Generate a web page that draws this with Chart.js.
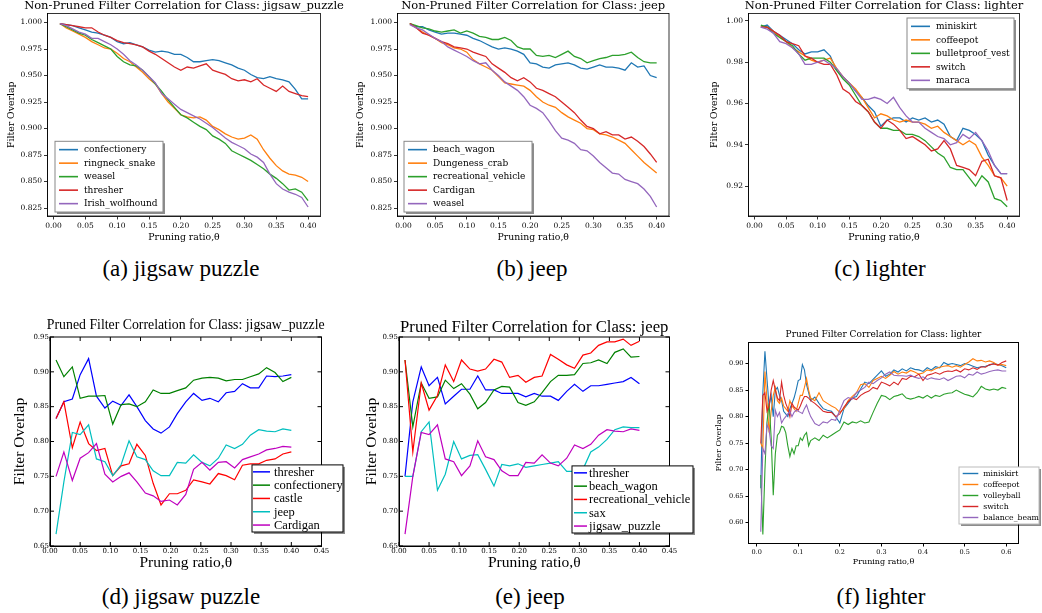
<!DOCTYPE html>
<html>
<head>
<meta charset="utf-8">
<script src="https://cdn.jsdelivr.net/npm/chart.js@4.4.0/dist/chart.umd.min.js"></script>
<style>
body { margin: 0; background: #fff; width: 1042px; height: 613px; position: relative; overflow: hidden; }
canvas { position: absolute; }
.cap { position: absolute; width: 300px; text-align: center; font-family: "Liberation Serif", serif; font-size: 23px; line-height: 23px; color: #000; }
</style>
</head>
<body>
<canvas id="pa"></canvas>
<canvas id="pb"></canvas>
<canvas id="pc"></canvas>
<canvas id="pd"></canvas>
<canvas id="pe"></canvas>
<canvas id="pf"></canvas>
<div class="cap" style="left:31px;top:257px">(a) jigsaw puzzle</div>
<div class="cap" style="left:382px;top:257px">(b) jeep</div>
<div class="cap" style="left:730px;top:257px">(c) lighter</div>
<div class="cap" style="left:31px;top:585px">(d) jigsaw puzzle</div>
<div class="cap" style="left:380px;top:585px">(e) jeep</div>
<div class="cap" style="left:731px;top:585px">(f) lighter</div>
<script>
// pruning ratios
const thetaTop = [0.01,0.02,0.03,0.04,0.05,0.06,0.07,0.08,0.09,0.10,0.11,0.12,0.13,0.14,0.15,0.16,0.17,0.18,0.19,0.20,
                  0.21,0.22,0.23,0.24,0.25,0.26,0.27,0.28,0.29,0.30,0.31,0.32,0.33,0.34,0.35,0.36,0.37,0.38,0.39,0.40];
const thetaPruned = [0.010,0.023,0.037,0.050,0.064,0.077,0.091,0.104,0.118,0.131,0.144,0.158,0.171,0.184,0.198,
                     0.211,0.225,0.238,0.252,0.265,0.279,0.292,0.306,0.319,0.332,0.346,0.359,0.373,0.386,0.400];
const thetaF = [0.010,0.015,0.020,0.025,0.030,0.035,0.040,0.045,0.050,0.055,0.060,0.065,0.070,0.075,0.080,0.085,
                0.090,0.095,0.100,0.105,0.110,0.115,0.120,0.125,
                0.13,0.14,0.15,0.16,0.17,0.18,0.19,0.20,0.21,0.22,0.23,0.24,0.25,0.26,0.27,0.28,0.29,0.30,
                0.31,0.32,0.33,0.34,0.35,0.36,0.37,0.38,0.39,0.40,0.41,0.42,0.43,0.44,0.45,0.46,0.47,0.48,
                0.49,0.50,0.51,0.52,0.53,0.54,0.55,0.56,0.57,0.58,0.59,0.60];

// tick labels
const ticksTopX = [0.00,0.05,0.10,0.15,0.20,0.25,0.30,0.35,0.40];
const ticksABY = [0.825,0.850,0.875,0.900,0.925,0.950,0.975,1.000];
const ticksCY = [0.92,0.94,0.96,0.98,1.00];
const ticksDEX = [0.00,0.05,0.10,0.15,0.20,0.25,0.30,0.35,0.40,0.45];
const ticksDEY = [0.65,0.70,0.75,0.80,0.85,0.90,0.95];
const ticksFX = [0.0,0.1,0.2,0.3,0.4,0.5,0.6];
const ticksFY = [0.60,0.65,0.70,0.75,0.80,0.85,0.90];

// (a) non-pruned, jigsaw_puzzle
const namesA = ["confectionery","ringneck_snake","weasel","thresher","Irish_wolfhound"];
const aConfectionery = [0.999,0.998,0.997,0.995,0.993,0.991,0.990,0.988,0.986,0.982,0.980,0.981,0.979,0.977,0.974,0.972,0.973,0.972,0.970,0.970,
                        0.967,0.963,0.963,0.964,0.965,0.964,0.962,0.960,0.957,0.955,0.951,0.948,0.947,0.949,0.947,0.946,0.944,0.937,0.928,0.928];
const aRingneck = [0.999,0.995,0.992,0.989,0.986,0.982,0.979,0.976,0.975,0.971,0.966,0.963,0.958,0.953,0.947,0.942,0.933,0.925,0.919,0.913,
                   0.911,0.910,0.911,0.908,0.902,0.899,0.895,0.892,0.890,0.891,0.894,0.890,0.880,0.872,0.865,0.860,0.857,0.856,0.854,0.850];
const aWeasel = [0.999,0.996,0.993,0.990,0.988,0.984,0.981,0.978,0.975,0.968,0.963,0.960,0.959,0.955,0.949,0.942,0.935,0.927,0.920,0.913,
                 0.910,0.906,0.902,0.899,0.893,0.890,0.886,0.879,0.876,0.873,0.870,0.866,0.862,0.857,0.853,0.848,0.842,0.843,0.840,0.832];
const aThresher = [0.999,0.998,0.997,0.996,0.995,0.995,0.991,0.988,0.986,0.983,0.981,0.980,0.979,0.977,0.973,0.970,0.966,0.962,0.958,0.955,
                   0.958,0.957,0.959,0.961,0.955,0.953,0.951,0.947,0.945,0.946,0.944,0.947,0.941,0.938,0.935,0.940,0.935,0.933,0.931,0.930];
const aWolfhound = [0.999,0.997,0.994,0.991,0.989,0.985,0.985,0.982,0.979,0.975,0.970,0.964,0.960,0.955,0.949,0.943,0.933,0.928,0.923,0.918,
                    0.915,0.912,0.909,0.905,0.901,0.896,0.891,0.887,0.884,0.881,0.876,0.873,0.868,0.857,0.848,0.843,0.840,0.838,0.835,0.826];

// (b) non-pruned, jeep
const namesB = ["beach_wagon","Dungeness_crab","recreational_vehicle","Cardigan","weasel"];
const bBeachWagon = [0.999,0.996,0.996,0.993,0.991,0.989,0.990,0.990,0.989,0.988,0.985,0.983,0.980,0.977,0.975,0.976,0.975,0.973,0.970,0.962,
                     0.961,0.958,0.957,0.960,0.961,0.962,0.960,0.957,0.956,0.958,0.960,0.958,0.958,0.957,0.955,0.962,0.958,0.959,0.950,0.948];
const bCrab = [0.999,0.995,0.991,0.988,0.985,0.981,0.979,0.976,0.975,0.972,0.965,0.961,0.958,0.955,0.949,0.943,0.942,0.941,0.940,0.936,
               0.930,0.925,0.922,0.920,0.915,0.911,0.908,0.905,0.900,0.899,0.895,0.894,0.892,0.889,0.886,0.880,0.874,0.868,0.863,0.858];
const bVehicle = [0.999,0.997,0.995,0.994,0.992,0.991,0.992,0.993,0.990,0.992,0.990,0.987,0.986,0.984,0.984,0.986,0.983,0.977,0.975,0.975,
                  0.969,0.968,0.969,0.967,0.970,0.973,0.968,0.966,0.962,0.964,0.966,0.967,0.969,0.969,0.970,0.972,0.967,0.963,0.962,0.962];
const bCardigan = [0.999,0.995,0.990,0.988,0.985,0.982,0.980,0.977,0.976,0.975,0.972,0.970,0.968,0.961,0.957,0.953,0.948,0.945,0.948,0.944,
                   0.938,0.936,0.933,0.930,0.925,0.920,0.915,0.908,0.902,0.900,0.895,0.897,0.894,0.894,0.890,0.892,0.888,0.883,0.876,0.868];
const bWeasel = [0.998,0.995,0.993,0.989,0.985,0.982,0.977,0.974,0.971,0.968,0.964,0.961,0.962,0.955,0.950,0.944,0.940,0.936,0.930,0.922,
                 0.919,0.915,0.907,0.898,0.891,0.889,0.886,0.880,0.879,0.874,0.868,0.863,0.858,0.857,0.852,0.850,0.848,0.843,0.836,0.826];

// (c) non-pruned, lighter
const namesC = ["miniskirt","coffeepot","bulletproof_vest","switch","maraca"];
const cMiniskirt = [0.997,0.998,0.995,0.993,0.991,0.989,0.986,0.984,0.985,0.985,0.986,0.983,0.976,0.973,0.970,0.966,0.963,0.959,0.956,0.949,
                    0.952,0.953,0.953,0.951,0.953,0.952,0.953,0.951,0.952,0.950,0.944,0.942,0.948,0.947,0.945,0.942,0.935,0.930,0.926,0.926];
const cCoffeepot = [0.997,0.997,0.995,0.992,0.990,0.987,0.985,0.983,0.981,0.980,0.981,0.982,0.977,0.973,0.970,0.967,0.963,0.958,0.953,0.955,
                    0.954,0.952,0.951,0.952,0.951,0.951,0.950,0.948,0.949,0.946,0.944,0.942,0.940,0.942,0.940,0.934,0.930,0.925,0.924,0.920];
const cVest = [0.998,0.997,0.994,0.992,0.990,0.988,0.984,0.981,0.982,0.982,0.982,0.980,0.976,0.972,0.969,0.964,0.959,0.956,0.951,0.948,
               0.948,0.947,0.947,0.945,0.945,0.944,0.942,0.939,0.936,0.934,0.929,0.928,0.928,0.924,0.920,0.925,0.922,0.914,0.913,0.910];
const cSwitch = [0.997,0.997,0.995,0.993,0.990,0.989,0.988,0.983,0.982,0.980,0.979,0.979,0.974,0.967,0.965,0.961,0.959,0.956,0.951,0.948,
                 0.952,0.950,0.947,0.943,0.944,0.942,0.940,0.937,0.938,0.942,0.938,0.930,0.929,0.928,0.925,0.932,0.933,0.925,0.924,0.913];
const cMaraca = [0.997,0.996,0.994,0.990,0.989,0.987,0.984,0.979,0.979,0.980,0.981,0.979,0.977,0.973,0.970,0.966,0.962,0.962,0.963,0.962,
                 0.960,0.963,0.958,0.954,0.951,0.951,0.948,0.946,0.944,0.943,0.940,0.941,0.945,0.943,0.946,0.942,0.937,0.930,0.926,0.926];

// (d) pruned, jigsaw_puzzle
const namesD = ["thresher","confectionery","castle","jeep","Cardigan"];
const dThresher = [0.833,0.857,0.861,0.896,0.919,0.865,0.848,0.858,0.852,0.867,0.850,0.830,0.818,0.812,0.821,
                   0.840,0.857,0.869,0.859,0.862,0.857,0.870,0.872,0.883,0.877,0.877,0.894,0.893,0.894,0.896];
const dConfectionery = [0.917,0.893,0.907,0.862,0.865,0.865,0.866,0.825,0.853,0.854,0.850,0.857,0.874,0.869,0.869,
                        0.873,0.877,0.888,0.891,0.892,0.891,0.887,0.889,0.889,0.893,0.897,0.906,0.899,0.886,0.892];
const dCastle = [0.833,0.857,0.791,0.828,0.797,0.787,0.790,0.751,0.765,0.768,0.796,0.780,0.740,0.709,0.725,
                 0.725,0.730,0.745,0.742,0.739,0.754,0.751,0.745,0.766,0.768,0.768,0.773,0.775,0.782,0.785];
const dJeep = [0.667,0.742,0.813,0.810,0.824,0.775,0.771,0.751,0.767,0.801,0.778,0.774,0.758,0.751,0.751,
               0.770,0.769,0.781,0.770,0.765,0.776,0.795,0.790,0.796,0.809,0.817,0.815,0.814,0.818,0.816];
const dCardigan = [0.750,0.785,0.744,0.776,0.784,0.797,0.753,0.742,0.750,0.755,0.742,0.726,0.722,0.714,0.716,
                   0.709,0.724,0.760,0.770,0.759,0.770,0.771,0.762,0.774,0.778,0.782,0.788,0.790,0.793,0.792];

// (e) pruned, jeep
const namesE = ["thresher","beach_wagon","recreational_vehicle","sax","jigsaw_puzzle"];
const eThresher = [0.750,0.857,0.907,0.880,0.892,0.854,0.865,0.875,0.875,0.894,0.874,0.874,0.869,0.869,0.869,
                   0.864,0.869,0.865,0.865,0.859,0.872,0.882,0.872,0.880,0.880,0.882,0.884,0.886,0.892,0.883];
const eBeachWagon = [0.917,0.821,0.884,0.862,0.864,0.888,0.876,0.883,0.868,0.847,0.856,0.874,0.879,0.878,0.856,
                     0.852,0.857,0.870,0.886,0.895,0.895,0.896,0.912,0.913,0.917,0.912,0.928,0.933,0.921,0.922];
const eVehicle = [0.917,0.785,0.884,0.845,0.866,0.910,0.886,0.917,0.904,0.901,0.904,0.918,0.914,0.892,0.895,
                  0.885,0.892,0.894,0.925,0.918,0.910,0.905,0.924,0.927,0.938,0.943,0.943,0.947,0.938,0.944];
const eSax = [0.750,0.750,0.814,0.828,0.730,0.753,0.800,0.775,0.780,0.781,0.760,0.736,0.767,0.765,0.768,
              0.763,0.765,0.767,0.769,0.771,0.757,0.757,0.760,0.785,0.792,0.803,0.817,0.821,0.820,0.820];
const eJigsaw = [0.667,0.750,0.813,0.810,0.824,0.775,0.771,0.751,0.765,0.801,0.778,0.774,0.758,0.751,0.751,
                 0.770,0.769,0.781,0.769,0.765,0.776,0.795,0.790,0.796,0.809,0.817,0.815,0.814,0.818,0.816];

// (f) pruned, lighter
const namesF = ["miniskirt","coffeepot","volleyball","switch","balance_beam"];
const fMiniskirt = [0.665,0.845,0.923,0.870,0.820,0.840,0.800,0.850,0.855,0.840,0.830,0.810,0.805,0.800,0.815,0.825,
                    0.835,0.850,0.868,0.870,0.898,0.888,0.860,0.845,
                    0.830,0.837,0.825,0.815,0.812,0.810,0.800,0.788,0.815,0.825,0.835,0.838,0.852,0.865,0.862,0.870,0.878,0.886,
                    0.876,0.880,0.888,0.884,0.890,0.886,0.892,0.889,0.888,0.885,0.892,0.888,0.894,0.892,0.902,0.898,0.900,0.898,
                    0.896,0.900,0.898,0.895,0.892,0.894,0.895,0.897,0.900,0.898,0.896,0.892];
const fCoffeepot = [0.750,0.740,0.885,0.830,0.770,0.810,0.840,0.855,0.830,0.825,0.835,0.820,0.815,0.810,0.830,0.820,
                    0.815,0.810,0.825,0.840,0.840,0.855,0.872,0.850,
                    0.835,0.830,0.845,0.830,0.825,0.820,0.816,0.808,0.815,0.830,0.838,0.845,0.860,0.862,0.855,0.868,0.872,0.876,
                    0.872,0.878,0.885,0.880,0.884,0.882,0.887,0.884,0.880,0.882,0.888,0.886,0.890,0.893,0.895,0.896,0.893,0.896,
                    0.893,0.898,0.903,0.909,0.905,0.906,0.903,0.905,0.902,0.897,0.898,0.896];
const fVolleyball = [0.690,0.578,0.700,0.790,0.825,0.760,0.652,0.730,0.765,0.770,0.782,0.780,0.770,0.745,0.725,0.740,
                     0.730,0.745,0.745,0.760,0.755,0.765,0.770,0.745,
                     0.755,0.760,0.755,0.765,0.760,0.765,0.770,0.775,0.790,0.785,0.790,0.788,0.792,0.788,0.790,0.808,0.825,0.840,
                     0.838,0.832,0.838,0.840,0.843,0.835,0.833,0.835,0.838,0.835,0.840,0.835,0.840,0.838,0.842,0.844,0.845,0.850,
                     0.846,0.842,0.840,0.837,0.845,0.857,0.852,0.850,0.852,0.850,0.855,0.853];
const fSwitch = [0.750,0.840,0.845,0.810,0.820,0.850,0.868,0.850,0.835,0.830,0.865,0.840,0.825,0.815,0.800,0.825,
                 0.818,0.815,0.812,0.820,0.830,0.838,0.838,0.835,
                 0.830,0.825,0.818,0.810,0.808,0.808,0.800,0.805,0.818,0.828,0.835,0.832,0.840,0.845,0.848,0.855,0.852,0.865,
                 0.862,0.858,0.865,0.860,0.872,0.870,0.876,0.875,0.880,0.868,0.878,0.880,0.883,0.880,0.884,0.886,0.885,0.888,
                 0.884,0.890,0.888,0.892,0.889,0.894,0.893,0.898,0.899,0.897,0.902,0.905];
const fBalanceBeam = [0.583,0.740,0.730,0.785,0.775,0.745,0.740,0.812,0.800,0.808,0.788,0.795,0.800,0.805,0.810,0.800,
                      0.808,0.812,0.810,0.808,0.806,0.815,0.822,0.810,
                      0.800,0.787,0.783,0.790,0.788,0.795,0.793,0.812,0.830,0.836,0.833,0.845,0.850,0.855,0.865,0.862,0.868,0.873,
                      0.880,0.884,0.878,0.877,0.877,0.876,0.878,0.874,0.872,0.875,0.870,0.873,0.871,0.870,0.873,0.868,0.872,0.876,
                      0.877,0.873,0.880,0.878,0.884,0.880,0.882,0.885,0.887,0.888,0.886,0.886];

const tab10 = ["#1f77b4","#ff7f0e","#2ca02c","#d62728","#9467bd"];
const classic = ["#0000ff","#008000","#ff0000","#00bfbf","#bf00bf"];

// looks of the three kinds of panel
const styleTop = {
    spine: 0.8, line: 1.3, tickLen: 3.5, tickPad: 2, inTicks: false,
    tickFont: {family: "DejaVu Serif", size: 7.5}, labelFont: {family: "DejaVu Serif", size: 9.3},
    titleFont: '11.5px "DejaVu Serif"', titleGap: 7.5,
    lgFont: '9px "DejaVu Serif"', rowH: 13.5, padV: 1.6, padL: 4, handle: 19, gap: 6, edge: "#888"
};
const styleClassic = {
    spine: 1, line: 1.2, tickLen: 0, tickPad: 1, inTicks: true,
    tickFont: {family: "DejaVu Serif", size: 7}, labelFont: {family: "Liberation Serif", size: 15.5},
    titleFont: '13.8px "Liberation Serif"', titleGap: 12,
    lgFont: '12.5px "Liberation Serif"', rowH: 13.3, padV: 0.3, padL: 1, handle: 17, gap: 4, edge: "#000"
};
const styleF = {
    spine: 1, line: 1.1, tickLen: 3, tickPad: 2, inTicks: false,
    tickFont: {family: "DejaVu Serif", size: 6.5}, labelFont: {family: "DejaVu Serif", size: 8},
    titleFont: '9px "DejaVu Serif"', titleGap: 7.5,
    lgFont: '7.7px "DejaVu Serif"', rowH: 11, padV: 1, padL: 3.7, handle: 15.6, gap: 5, edge: "#bbb"
};

const panels = [
    {id: "pa", box: [0, 0, 345, 250], area: [47.5, 13.5, 320.5, 216], style: styleTop,
     title: "Non-Pruned Filter Correlation for Class: jigsaw_puzzle",
     x: [-0.0095, 0.4195, ticksTopX, 2], y: [0.8175, 1.0085, ticksABY, 3], yPad: 6.4, xPad: 7.1,
     theta: thetaTop, names: namesA, colors: tab10,
     series: [aConfectionery, aRingneck, aWeasel, aThresher, aWolfhound],
     legend: {h: "left", v: "bottom", dx: 7.5, dy: 4, w: 108}},
    {id: "pb", box: [345, 0, 345, 250], area: [397.5, 13.5, 669, 216], style: styleTop,
     title: "Non-Pruned Filter Correlation for Class: jeep",
     x: [-0.0095, 0.4195, ticksTopX, 2], y: [0.8175, 1.0085, ticksABY, 3], yPad: 10.1, xPad: 7.1,
     theta: thetaTop, names: namesB, colors: tab10,
     series: [bBeachWagon, bCrab, bVehicle, bCardigan, bWeasel],
     legend: {h: "left", v: "bottom", dx: 6.5, dy: 4, w: 128}},
    {id: "pc", box: [690, 0, 352, 250], area: [748.5, 13.5, 1019.5, 216], style: styleTop,
     title: "Non-Pruned Filter Correlation for Class: lighter",
     x: [-0.0095, 0.4195, ticksTopX, 2], y: [0.9055, 1.0036, ticksCY, 2], yPad: 19.4, xPad: 7.1,
     theta: thetaTop, names: namesC, colors: tab10,
     series: [cMiniskirt, cCoffeepot, cVest, cSwitch, cMaraca],
     legend: {h: "right", v: "top", dx: 5.5, dy: 4.5, w: 107}},
    {id: "pd", box: [0, 305, 350, 270], area: [50, 337, 321.5, 546], style: styleClassic,
     title: "Pruned Filter Correlation for Class: jigsaw_puzzle",
     x: [0, 0.45, ticksDEX, 2], y: [0.65, 0.95, ticksDEY, 2], yPad: 10.7, xPad: 3,
     theta: thetaPruned, names: namesD, colors: classic,
     series: [dThresher, dConfectionery, dCastle, dJeep, dCardigan],
     legend: {h: "right", v: "bottom", dx: -21.5, dy: 14, w: 91}},
    {id: "pe", box: [350, 305, 350, 270], area: [399, 337, 669.5, 546], style: styleClassic,
     over: {titleFont: '16.7px "Liberation Serif"', titleGap: 9, handle: 13, padL: 2, gap: 2},
     title: "Pruned Filter Correlation for Class: jeep",
     x: [0, 0.45, ticksDEX, 2], y: [0.65, 0.95, ticksDEY, 2], yPad: 12.4, xPad: 3,
     theta: thetaPruned, names: namesE, colors: classic,
     series: [eThresher, eBeachWagon, eVehicle, eSax, eJigsaw],
     legend: {h: "right", v: "bottom", dx: -23.5, dy: 13, w: 121}},
    {id: "pf", box: [700, 305, 342, 270], area: [748.5, 342.5, 1018.5, 543.5], style: styleF,
     title: "Pruned Filter Correlation for Class: lighter",
     x: [-0.0195, 0.6295, ticksFX, 1], y: [0.561, 0.9396, ticksFY, 2], yPad: 14.5, xPad: 8.5,
     theta: thetaF, names: namesF, colors: tab10,
     series: [fMiniskirt, fCoffeepot, fVolleyball, fSwitch, fBalanceBeam],
     legend: {h: "right", v: "bottom", dx: -20.5, dy: 19.5, w: 80}}
];

// spines, inward ticks, title and boxed legend
const decor = {
    id: "decor",
    afterDraw(chart, args, o) {
        const {ctx, chartArea: a} = chart;
        const s = o.s;
        ctx.save();
        ctx.strokeStyle = "#000";
        ctx.lineWidth = s.spine;
        ctx.strokeRect(a.left, a.top, a.right - a.left, a.bottom - a.top);
        if (s.inTicks) {
            const xs = chart.scales.x, ys = chart.scales.y;
            ctx.beginPath();
            xs.ticks.forEach(t => {
                const px = xs.getPixelForValue(t.value);
                ctx.moveTo(px, a.bottom); ctx.lineTo(px, a.bottom - 4);
                ctx.moveTo(px, a.top); ctx.lineTo(px, a.top + 4);
            });
            ys.ticks.forEach(t => {
                const py = ys.getPixelForValue(t.value);
                ctx.moveTo(a.left, py); ctx.lineTo(a.left + 4, py);
                ctx.moveTo(a.right, py); ctx.lineTo(a.right - 4, py);
            });
            ctx.stroke();
        }
        ctx.fillStyle = "#000";
        ctx.font = s.titleFont;
        ctx.textAlign = "center";
        ctx.textBaseline = "middle";
        ctx.fillText(o.title, (a.left + a.right) / 2, a.top - s.titleGap);

        const lg = o.legend;
        const ds = chart.data.datasets;
        const h = ds.length * s.rowH + 2 * s.padV;
        const x = lg.h === "left" ? a.left + lg.dx : a.right - lg.dx - lg.w;
        const y = lg.v === "top" ? a.top + lg.dy : a.bottom - lg.dy - h;
        ctx.fillStyle = "rgba(0,0,0,0.45)";
        ctx.fillRect(x + 2, y + 2, lg.w, h);
        ctx.fillStyle = "#fff";
        ctx.fillRect(x, y, lg.w, h);
        ctx.strokeStyle = s.edge;
        ctx.lineWidth = 1;
        ctx.strokeRect(x, y, lg.w, h);
        ctx.font = s.lgFont;
        ctx.textAlign = "left";
        ds.forEach((d, i) => {
            const cy = y + s.padV + s.rowH * (i + 0.5);
            ctx.strokeStyle = d.borderColor;
            ctx.lineWidth = d.borderWidth + 0.3;
            ctx.beginPath();
            ctx.moveTo(x + s.padL, cy);
            ctx.lineTo(x + s.padL + s.handle, cy);
            ctx.stroke();
            ctx.fillStyle = "#000";
            ctx.fillText(d.label, x + s.padL + s.handle + s.gap, cy + 0.5);
        });
        ctx.restore();
    }
};

function axis(range, s, size, title, pad) {
    const [min, max, ticks, digits] = range;
    return {
        type: "linear", min, max,
        afterBuildTicks: sc => { sc.ticks = ticks.map(v => ({value: v})); },
        afterFit: sc => { if (sc.isHorizontal()) sc.height = size; else sc.width = size; },
        border: {display: true, color: "#000", width: s.spine},
        grid: {display: true, drawOnChartArea: false, drawTicks: s.tickLen > 0,
               tickLength: s.tickLen, tickColor: "#000", tickWidth: s.spine},
        ticks: {color: "#000", font: s.tickFont, padding: s.tickPad, maxRotation: 0, autoSkip: false,
                callback: v => Number(v).toFixed(digits)},
        title: {display: true, text: title, color: "#000", font: s.labelFont, padding: pad}
    };
}

panels.forEach(p => {
    const s = Object.assign({}, p.style, p.over || {});
    const [cl, ct, cw, ch] = p.box;
    const [L, T, R, B] = p.area;
    const cv = document.getElementById(p.id);
    cv.width = cw; cv.height = ch;
    cv.style.left = cl + "px"; cv.style.top = ct + "px";

    new Chart(cv.getContext("2d"), {
        type: "line",
        data: {
            datasets: p.names.map((name, i) => ({
                label: name,
                data: p.series[i].map((v, k) => ({x: p.theta[k], y: v})),
                borderColor: p.colors[i],
                borderWidth: s.line,
                pointRadius: 0,
                tension: 0,
                fill: false,
                order: p.names.length - i
            }))
        },
        options: {
            responsive: false,
            animation: false,
            events: [],
            layout: {padding: {left: 0, top: T - ct, right: cl + cw - R, bottom: 0}},
            scales: {
                x: axis(p.x, s, ct + ch - B, "Pruning ratio,\u03b8", p.xPad),
                y: axis(p.y, s, L - cl, "Filter Overlap", p.yPad)
            },
            plugins: {
                legend: {display: false},
                tooltip: {enabled: false},
                decor: {s, title: p.title, legend: p.legend}
            }
        },
        plugins: [decor]
    });
});
</script>
</body>
</html>
